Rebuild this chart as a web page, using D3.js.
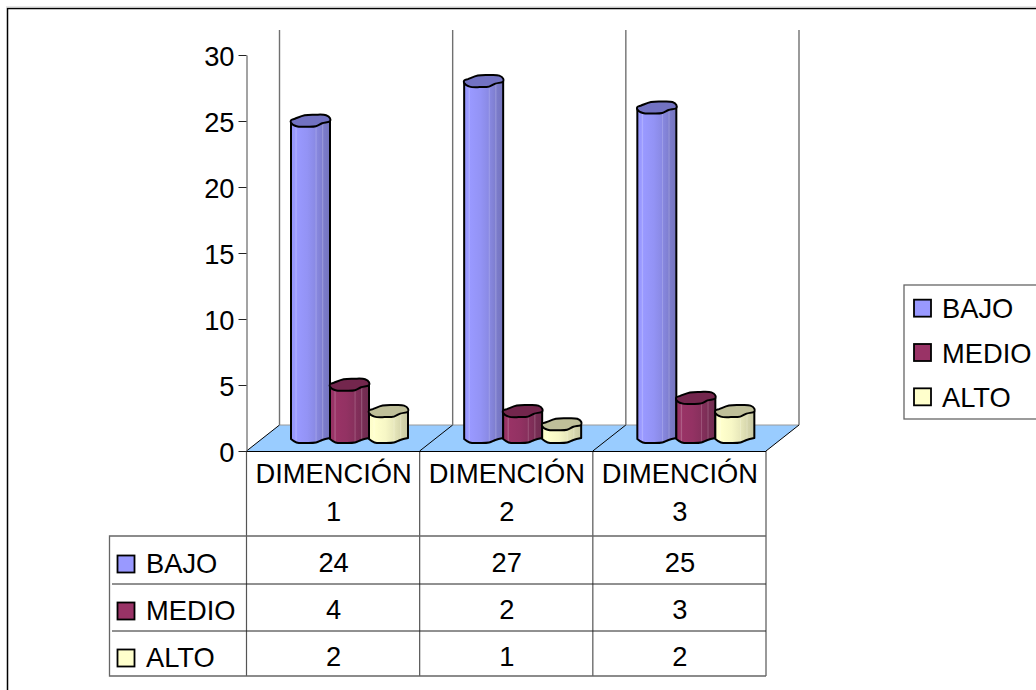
<!DOCTYPE html>
<html lang="es">
<head>
<meta charset="utf-8">
<title>Dimensiones por nivel</title>
<script src="https://cdn.jsdelivr.net/npm/d3@7"></script>
<style>
  html, body { margin: 0; padding: 0; background: #fff; overflow: hidden; }
  svg { display: block; }
  text { font-family: "Liberation Sans", Arial, sans-serif; font-size: 27.3px; fill: #000; }
</style>
</head>
<body>
<script>
// Values per dimension and level
const categories = ["DIMENCIÓN 1", "DIMENCIÓN 2", "DIMENCIÓN 3"];
const seriesNames = ["BAJO", "MEDIO", "ALTO"];
const bajo = [24, 27, 25];
const medio = [4, 2, 3];
const alto = [2, 1, 2];
const yTicks = [0, 5, 10, 15, 20, 25, 30];

const seriesValues = [bajo, medio, alto];
const palette = [
  { face: "#9999ff", dark: "#7474bd", top: "#7272c2" },
  { face: "#993366", dark: "#6f2b4f", top: "#73264d" },
  { face: "#ffffcc", dark: "#c9c9a3", top: "#bfbf99" }
];

const svg = d3.select("body").append("svg").attr("width", 1036).attr("height", 690);

// Scales
const y = d3.scaleLinear().domain([0, 30]).range([451, 55]);
const x = d3.scaleBand().domain(categories).range([246.5, 766]);
const xSeries = d3.scaleBand().domain(seriesNames).range([44.5, 161.5]);
const rowY = d3.scaleBand().domain(seriesNames).range([537, 678]);

const depthX = 33, depthY = -26, wallTop = 30;
const rearY = y(0) + depthY;
const left = x.range()[0], right = x.range()[1];

// Horizontal gradients that shade the cylinders, with their pale facet lines
const defs = svg.append("defs");
palette.forEach((p, i) => {
  const pale = d3.interpolateRgb(p.face, "#ffffff")(0.22);
  const mix = t => d3.interpolateRgb(p.face, p.dark)(t);
  const stops = [
    [0, mix(0.05)], [0.1, p.face], [0.13, pale], [0.16, p.face], [0.42, mix(0.15)],
    [0.62, mix(0.4)], [0.64, d3.interpolateRgb(mix(0.4), "#ffffff")(0.2)], [0.67, mix(0.5)],
    [0.79, mix(0.7)], [0.81, d3.interpolateRgb(mix(0.7), "#ffffff")(0.2)], [0.84, mix(0.8)], [1, p.dark]
  ];
  const g = defs.append("linearGradient").attr("id", "shade" + i);
  g.selectAll("stop").data(stops).join("stop")
    .attr("offset", d => d[0]).attr("stop-color", d => d[1]);
});

// Floor of the 3D plot: pale rear edge, dark diagonal sides
svg.append("path")
  .attr("d", d3.line()([[left, y(0)], [left + depthX, rearY], [right + depthX, rearY], [right, y(0)]]) + "Z")
  .attr("fill", "#99ccff").attr("stroke", "none");
svg.append("line")
  .attr("x1", left + depthX).attr("x2", right + depthX).attr("y1", rearY).attr("y2", rearY)
  .attr("stroke", "#9a9a9a").attr("stroke-width", 1);

// Floor diagonals at each category boundary
const boundaries = categories.map(c => x(c)).concat(right);
svg.append("g").selectAll("line").data(boundaries).join("line")
  .attr("x1", d => d).attr("y1", y(0))
  .attr("x2", d => d + depthX).attr("y2", rearY)
  .attr("stroke", "#000").attr("stroke-width", 1);

// Rear vertical walls
svg.append("g").selectAll("line").data(boundaries).join("line")
  .attr("x1", d => d + depthX).attr("x2", d => d + depthX)
  .attr("y1", wallTop).attr("y2", rearY)
  .attr("stroke", "#707070").attr("stroke-width", 1.4);

// Cylinder outline, as fractions of the bar width and pixel offsets from the centre line
const topRing = [[0, -1], [0.1, -2.5], [0.35, -6], [0.62, -6.5], [0.9, -6], [1, -3], [1, 0], [0.8, 2], [0.64, 5], [0.4, 5.5], [0.14, 5], [0, 1.5]];
const bottomArc = [[1, 0], [0.8, 2], [0.64, 4.5], [0.4, 5], [0.14, 4.5], [0, 1]];

const bars = [];
seriesNames.forEach((s, si) => {
  categories.forEach((c, ci) => {
    bars.push({ si, left: x(c) + xSeries(s), width: xSeries.bandwidth(), value: seriesValues[si][ci] });
  });
});
const baseOffset = 13;
const ringLine = d3.line().curve(d3.curveCatmullRomClosed.alpha(0.5));
const arcLine = d3.line().curve(d3.curveCatmullRom.alpha(0.5));

const barG = svg.append("g").selectAll("g").data(bars).join("g");
barG.append("path")
  .attr("d", d => {
    const topY = y(d.value) - baseOffset, baseY = y(0) - baseOffset;
    const pt = (p, cy) => [d.left + p[0] * d.width, cy + p[1]];
    const [lx, ly] = pt([0, 0], topY), [rx, ry] = pt([1, 0], topY);
    return `M${lx},${ly}L${rx},${ry}` + arcLine(bottomArc.map(p => pt(p, baseY))).replace(/^M/, "L") + "Z";
  })
  .attr("fill", d => `url(#shade${d.si})`)
  .attr("stroke", "#000").attr("stroke-width", 2).attr("stroke-linejoin", "round");
barG.append("path")
  .attr("d", d => {
    const topY = y(d.value) - baseOffset;
    return ringLine(topRing.map(p => [d.left + p[0] * d.width, topY + p[1]]));
  })
  .attr("fill", d => palette[d.si].top)
  .attr("stroke", "#000").attr("stroke-width", 2).attr("stroke-linejoin", "round");

// Value axis
const axis = svg.append("g")
  .attr("transform", `translate(${left},0)`)
  .call(d3.axisLeft(y).tickValues(yTicks).tickSize(8).tickSizeOuter(0).tickPadding(4));
axis.select(".domain").attr("stroke", "#666").attr("stroke-width", 1.2);
axis.selectAll(".tick line").attr("stroke", "#222").attr("stroke-width", 1);
axis.selectAll(".tick text")
  .style("font-family", '"Liberation Sans", Arial, sans-serif')
  .style("font-size", "27.3px").attr("fill", "#000").attr("dy", "0.39em");

// Data table below the plot
const table = svg.append("g");
const tableLeft = 109.5, tableTop = 536, tableBottom = 676;
table.selectAll("line.col").data(boundaries).join("line").attr("class", "col")
  .attr("x1", d => d).attr("x2", d => d).attr("y1", y(0)).attr("y2", tableBottom)
  .attr("stroke", "#555").attr("stroke-width", 1.2);
table.append("line").attr("x1", left).attr("x2", right).attr("y1", y(0) + 0.5).attr("y2", y(0) + 0.5)
  .attr("stroke", "#000").attr("stroke-width", 1.2);
table.append("path")
  .attr("d", d3.line()([[right, tableTop], [tableLeft, tableTop], [tableLeft, tableBottom], [right, tableBottom]]))
  .attr("fill", "none").attr("stroke", "#666").attr("stroke-width", 1.3);
table.selectAll("line.row").data(seriesNames.slice(1)).join("line").attr("class", "row")
  .attr("x1", tableLeft + 2.5).attr("x2", right)
  .attr("y1", d => rowY(d)).attr("y2", d => rowY(d))
  .attr("stroke", "#222").attr("stroke-width", 1);

// Category headers on two lines
const header = table.selectAll("g.head").data(categories).join("g").attr("class", "head");
header.append("text").attr("text-anchor", "middle")
  .attr("x", d => x(d) + x.bandwidth() / 2 + 0.5).attr("y", 483)
  .text(d => d.split(" ")[0]);
header.append("text").attr("text-anchor", "middle")
  .attr("x", d => x(d) + x.bandwidth() / 2 + 0.5).attr("y", 521)
  .text(d => d.split(" ")[1]);

// Table rows: swatch, level name, one value per category
seriesNames.forEach((s, si) => {
  const mid = rowY(s) + rowY.bandwidth() / 2;
  table.append("rect").attr("x", 117.5).attr("y", mid - 5).attr("width", 17).attr("height", 17)
    .attr("fill", palette[si].face).attr("stroke", "#000").attr("stroke-width", 1.8);
  table.append("text").attr("x", 146).attr("y", mid + 12).text(s);
  table.selectAll(null).data(seriesValues[si]).join("text")
    .attr("text-anchor", "middle")
    .attr("x", (d, i) => x(categories[i]) + x.bandwidth() / 2 + 0.5)
    .attr("y", mid + 11.5)
    .text(d => d);
});

// Legend box, running past the right edge of the drawing
const legendRows = d3.scaleBand().domain(seriesNames).range([287, 420]);
svg.append("rect").attr("x", 904).attr("y", 285).attr("width", 160).attr("height", 134)
  .attr("fill", "#fff").attr("stroke", "#666").attr("stroke-width", 1.3);
seriesNames.forEach((s, si) => {
  const mid = legendRows(s) + legendRows.bandwidth() / 2;
  svg.append("rect").attr("x", 914).attr("y", mid - 9.5).attr("width", 17).attr("height", 17)
    .attr("fill", palette[si].face).attr("stroke", "#000").attr("stroke-width", 1.8);
  svg.append("text").attr("x", 942).attr("y", mid + 9).text(s);
});

// Chart frame
svg.append("path")
  .attr("d", d3.line()([[7.5, 690], [7.5, 8.5], [1036, 8.5]]))
  .attr("fill", "none").attr("stroke", "#000").attr("stroke-width", 1.5);
svg.append("line").attr("x1", 6).attr("x2", 1036).attr("y1", 7).attr("y2", 7)
  .attr("stroke", "#ccc").attr("stroke-width", 1);
</script>
</body>
</html>
